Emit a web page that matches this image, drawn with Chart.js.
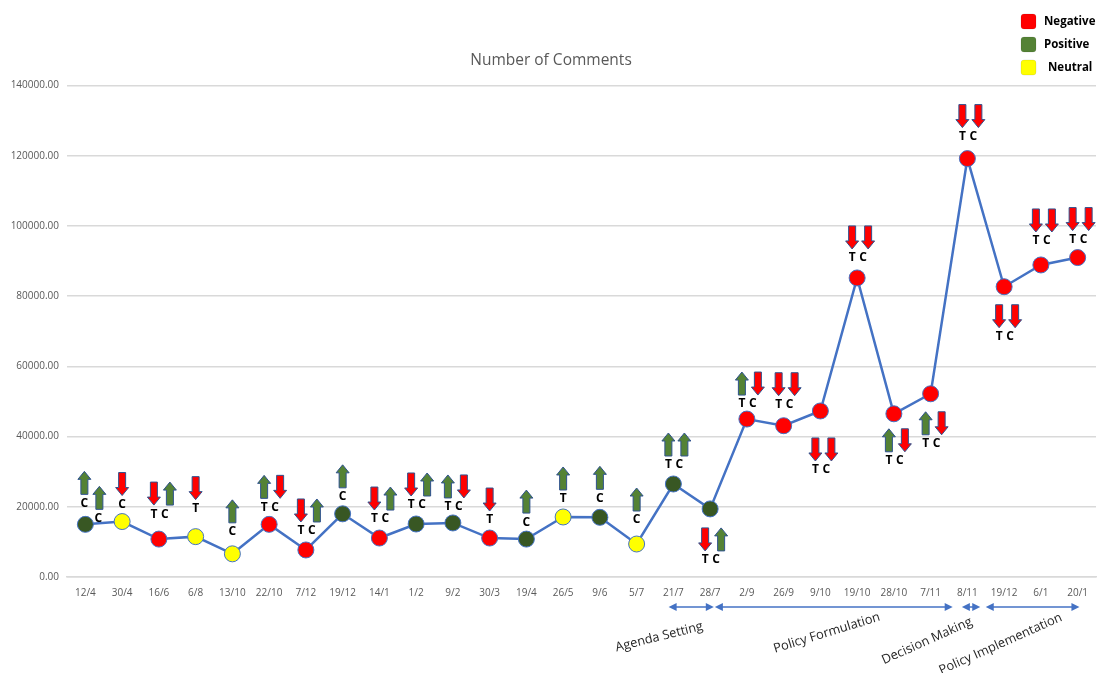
<!DOCTYPE html>
<html><head><meta charset="utf-8">
<script src="https://cdn.jsdelivr.net/npm/chart.js@4.4.1/dist/chart.umd.min.js"></script>
<style>html,body{margin:0;padding:0;background:#fff}#wrap{width:1105px;height:673px}</style>
</head><body><div id="wrap"><canvas id="c" width="1105" height="673"></canvas></div>
<script>
// ---------- DATA ----------
const categories = ['12/4','30/4','16/6','6/8','13/10','22/10','7/12','19/12','14/1','1/2','9/2','30/3','19/4','26/5','9/6','5/7','21/7','28/7','2/9','26/9','9/10','19/10','28/10','7/11','8/11','19/12','6/1','20/1'];
const comments = [15000,15800,10800,11500,6600,15000,7700,18000,11100,15100,15400,11100,10800,17100,17000,9400,26500,19400,45000,43100,47300,85200,46500,52200,119200,82700,88900,91000];
// overall sentiment of each date: neg / pos / neu
const sentiment = ['pos','neu','neg','neu','neu','neg','neg','pos','neg','pos','pos','neg','pos','neu','pos','neu','pos','pos','neg','neg','neg','neg','neg','neg','neg','neg','neg','neg'];
// T / C trend marks: + = up (positive), - = down (negative)
const marks = ['C+ C+','C-','T- C+','T-','C+','T+ C-','T- C+','C+','T- C+','T- C+','T+ C-','T-','C+','T+','C+','C+','T+ C+','T- C+','T+ C-','T- C-','T- C-','T- C-','T+ C-','T+ C-','T- C-','T- C-','T- C-','T- C-'];
const legendNames = ['Negative','Positive','Neutral'];
const phaseNames = ['Agenda Setting','Policy Formulation','Decision Making','Policy Implementation'];
const phaseFrom = [15.87, 17.13, 23.85, 24.5];
const phaseTo = [17.1, 23.6, 24.35, 27.05];
const titleText = 'Number of Comments';

// ---------- STYLE / LAYOUT ----------
const COLORS = { neg: '#FF0000', pos: '#385723', neu: '#FFFF00' };
const LEGEND_COLORS = ['#FF0000', '#548235', '#FFFF00'];
const ARROW_UP = '#548235', ARROW_DOWN = '#FF0000', ARROW_EDGE = '#2F528F';
const markBelow = [17, 20, 22, 23, 25];
const markShift = [2,-2,6,9,3,-2,0,-2,0,0,-3,-1,-2,-1,0,5,0,0,-4,2,8,1,-4,-1,3,-1,5,-1];
const staggered = [0];
const phaseLabel = [
  { dx: -32, dy: 30, rot: -14 },
  { dx: -7, dy: 26, rot: -17 },
  { dx: -44, dy: 34, rot: -24 },
  { dx: -32, dy: 37, rot: -24 }
];
const FONT = '"Open Sans", "Noto Sans", sans-serif';

function drawArrow(ctx, x, yTop, yBot, up) {
  const sw = 3.5, hw = 6.5, hl = 8;
  ctx.beginPath();
  if (up) {
    ctx.moveTo(x, yTop);
    ctx.lineTo(x + hw, yTop + hl);
    ctx.lineTo(x + sw, yTop + hl);
    ctx.lineTo(x + sw, yBot);
    ctx.lineTo(x - sw, yBot);
    ctx.lineTo(x - sw, yTop + hl);
    ctx.lineTo(x - hw, yTop + hl);
  } else {
    ctx.moveTo(x, yBot);
    ctx.lineTo(x + hw, yBot - hl);
    ctx.lineTo(x + sw, yBot - hl);
    ctx.lineTo(x + sw, yTop);
    ctx.lineTo(x - sw, yTop);
    ctx.lineTo(x - sw, yBot - hl);
    ctx.lineTo(x - hw, yBot - hl);
  }
  ctx.closePath();
  ctx.fillStyle = up ? ARROW_UP : ARROW_DOWN;
  ctx.fill();
  ctx.lineWidth = 1;
  ctx.strokeStyle = ARROW_EDGE;
  ctx.stroke();
}

const markPlugin = {
  id: 'marks',
  afterDatasetsDraw(chart) {
    const ctx = chart.ctx;
    const pts = chart.getDatasetMeta(0).data;
    ctx.save();
    ctx.font = 'bold 12px ' + FONT;
    ctx.textAlign = 'center';
    ctx.textBaseline = 'middle';
    marks.forEach((m, i) => {
      const items = m.split(' ').map(s => ({ letter: s[0], up: s[1] === '+' }));
      const px = pts[i].x, py = pts[i].y;
      const below = markBelow.includes(i);
      const ty = below ? py + 51 + markShift[i] : py - 19 - markShift[i];
      items.forEach((it, k) => {
        let lx, ax, ly = ty;
        if (staggered.includes(i)) {
          lx = px - 1 + k * 14; ax = lx + k; ly = ty + k * 15;
        } else if (items.length === 1) {
          lx = px; ax = px;
        } else {
          lx = px + (k === 0 ? -5 : 6);
          ax = px + (k === 0 ? -5 : 11);
        }
        ctx.fillStyle = '#000';
        ctx.fillText(it.letter, lx, ly);
        const aBot = ly - 9, aTop = aBot - 23;
        drawArrow(ctx, ax, aTop, aBot, it.up);
      });
    });
    ctx.restore();
  },
  afterDraw(chart) {
    const ctx = chart.ctx;
    const xs = chart.scales.x;
    ctx.save();
    // legend
    ctx.font = 'bold 11.5px ' + FONT;
    ctx.textBaseline = 'middle';
    ctx.textAlign = 'left';
    legendNames.forEach((n, i) => {
      const y = 14 + i * 23;
      ctx.beginPath();
      ctx.roundRect(1021, y, 15, 15, 3);
      ctx.fillStyle = LEGEND_COLORS[i];
      ctx.fill();
      ctx.lineWidth = 0.6;
      ctx.strokeStyle = 'rgba(0,0,0,0.15)';
      ctx.stroke();
      ctx.fillStyle = '#000';
      ctx.fillText(n, 1044 + (i === 2 ? 4 : 0), y + 8);
    });
    // phases
    const ay = 607;
    phaseNames.forEach((n, i) => {
      const x1 = xs.getPixelForValue(phaseFrom[i]);
      const x2 = xs.getPixelForValue(phaseTo[i]);
      ctx.strokeStyle = '#4472C4';
      ctx.fillStyle = '#4472C4';
      ctx.lineWidth = 1.5;
      ctx.beginPath();
      ctx.moveTo(x1 + 4, ay); ctx.lineTo(x2 - 4, ay); ctx.stroke();
      ctx.beginPath();
      ctx.moveTo(x1, ay); ctx.lineTo(x1 + 8, ay - 4); ctx.lineTo(x1 + 8, ay + 4); ctx.closePath(); ctx.fill();
      ctx.beginPath();
      ctx.moveTo(x2, ay); ctx.lineTo(x2 - 8, ay - 4); ctx.lineTo(x2 - 8, ay + 4); ctx.closePath(); ctx.fill();
      const L = phaseLabel[i];
      ctx.save();
      ctx.translate((x1 + x2) / 2 + L.dx, ay + L.dy);
      ctx.rotate(L.rot * Math.PI / 180);
      ctx.font = '12.8px ' + FONT;
      ctx.fillStyle = '#262626';
      ctx.textAlign = 'center';
      ctx.textBaseline = 'middle';
      ctx.fillText(n, 0, 0);
      ctx.restore();
    });
    ctx.restore();
  }
};

new Chart(document.getElementById('c'), {
  type: 'line',
  data: {
    labels: categories,
    datasets: [{
      label: titleText,
      data: comments,
      borderColor: '#4472C4',
      borderWidth: 2.5,
      tension: 0,
      pointRadius: 8,
      pointHoverRadius: 8,
      pointBackgroundColor: sentiment.map(s => COLORS[s]),
      pointBorderColor: '#4472C4',
      pointBorderWidth: 1
    }]
  },
  options: {
    responsive: false,
    animation: false,
    devicePixelRatio: 1,
    layout: { padding: { top: 0, left: 0, right: 3, bottom: 0 } },
    plugins: {
      legend: { display: false },
      tooltip: { enabled: false },
      title: {
        display: true,
        text: titleText,
        color: '#595959',
        font: { family: FONT, size: 15.5, weight: 'normal' },
        padding: { top: 51, bottom: 16 }
      }
    },
    scales: {
      x: {
        offset: true,
        grid: { display: false, drawTicks: false },
        border: { display: true, color: '#d9d9d9', width: 1.5 },
        ticks: { color: '#595959', font: { family: FONT, size: 10 }, padding: 10, maxRotation: 0, autoSkip: false },
        afterFit(s) { s.height = 96; s.paddingLeft = 0; s.paddingRight = 0; }
      },
      y: {
        min: 0, max: 140000,
        grid: { color: '#d9d9d9', lineWidth: 1.5, drawTicks: false },
        border: { display: false },
        ticks: { stepSize: 20000, color: '#595959', font: { family: FONT, size: 10 }, padding: 8, callback: v => Number(v).toFixed(2) },
        afterFit(s) { s.width = 67; s.paddingTop = 0; s.paddingBottom = 0; }
      }
    }
  },
  plugins: [markPlugin]
});
</script>
</body></html>
